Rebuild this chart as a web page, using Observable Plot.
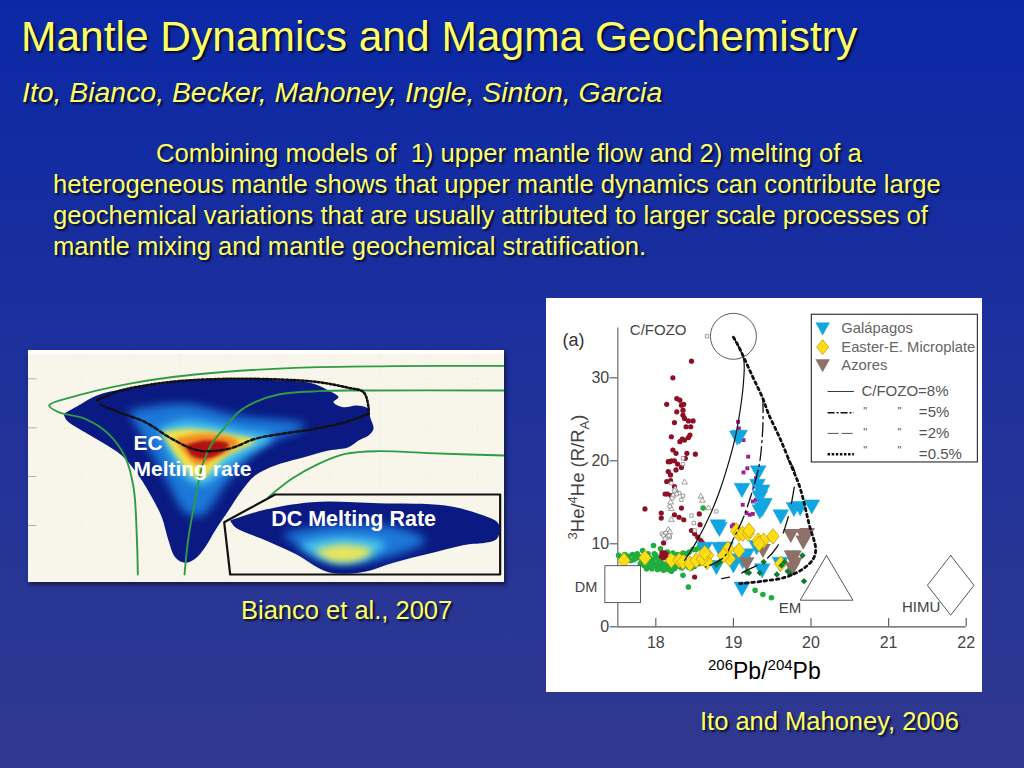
<!DOCTYPE html>
<html><head><meta charset="utf-8">
<script src="https://cdn.jsdelivr.net/npm/d3@7"></script>
<script src="https://cdn.jsdelivr.net/npm/@observablehq/plot@0.6"></script>
<style>
html,body{margin:0;padding:0;width:1024px;height:768px;overflow:hidden;background:linear-gradient(#0b28a6 0%,#1d309c 45%,#30398f 100%);font-family:"Liberation Sans",Arial,sans-serif}
.t{position:absolute;white-space:nowrap;color:#ffff66;text-shadow:2px 2px 2px #000b}
#title{left:21px;top:14px;font-size:42.5px;line-height:46px}
#sub{left:22px;top:76px;font-size:28.4px;line-height:32px;font-style:italic}
.p{font-size:25.6px;line-height:31px}
.cap{font-size:25.5px;line-height:28px}
#ec,#ito{position:absolute}
#ec{left:28px;top:350px;width:476px;height:232px;box-shadow:2px 3px 4px #0008}
#ito{left:546px;top:298px;width:436px;height:394px;background:#fff}
#ec svg,#ito svg{display:block;background:transparent}
#xl{position:absolute;left:162px;top:360px;font-size:23px;line-height:26px;color:#000;white-space:nowrap}
#xl sup{font-size:15px;line-height:0}
#yl{position:absolute;left:32px;top:179px;transform:translate(-50%,-50%) rotate(-90deg);font-size:18.5px;line-height:22px;color:#444;white-space:nowrap}
#yl sup,#yl sub{font-size:13px;line-height:0}
</style></head>
<body>
<div class="t" id="title">Mantle Dynamics and Magma Geochemistry</div>
<div class="t" id="sub">Ito, Bianco, Becker, Mahoney, Ingle, Sinton, Garcia</div>
<div class="t p" style="left:156px;top:138px">Combining models of&nbsp; 1) upper mantle flow and 2) melting of a</div>
<div class="t p" style="left:53px;top:169px">heterogeneous mantle shows that upper mantle dynamics can contribute large</div>
<div class="t p" style="left:53px;top:200px">geochemical variations that are usually attributed to larger scale processes of</div>
<div class="t p" style="left:53px;top:231px">mantle mixing and mantle geochemical stratification.</div>
<div id="ec"></div>
<div class="t cap" style="left:241px;top:596px">Bianco et al., 2007</div>
<div id="ito"><div id="yl"><sup>3</sup>He/<sup>4</sup>He (R/R<sub>A</sub>)</div><div id="xl"><sup>206</sup>Pb/<sup>204</sup>Pb</div></div>
<div class="t cap" style="left:700px;top:707px">Ito and Mahoney, 2006</div>
<script>
// ---------- Right panel: He / Pb values ----------
const darkRed=[[18.46,32],[18.22,30],[18.14,26.8],[18.27,27.5],[18.31,27.3],[18.33,26.7],[18.36,26.8],[18.27,25.9],[18.35,26.1],[18.35,25.5],[18.24,24.6],[18.37,25.1],[18.42,24.8],[18.48,24.8],[18.39,24.1],[18.45,24.1],[18.2,22.9],[18.44,23.1],[18.42,22.8],[18.37,22.5],[18.31,22.3],[18.34,22.6],[18.22,21.3],[18.26,20.9],[18.4,20.9],[18.51,20.8],[18.38,20.3],[18.16,19.9],[18.2,20],[18.24,20],[18.18,19.9],[18.28,19.6],[18.33,19.2],[18.16,18.7],[18.19,18.3],[18.26,18.9],[18.14,17.5],[18.19,17.6],[18.24,16.9],[18.15,16],[18.12,16],[18.2,15.8],[18.33,14.3],[17.86,14.2],[18.07,13.7],[18.07,13.1],[18.24,13.5],[18.3,13.2],[18.36,12.9],[18.56,13.6],[18.57,12.3],[18.46,11.6],[18.5,11.2],[18.54,10.8],[18.58,10.4],[18.6,10.1],[18.1,10.1],[18.5,6],[18.08,8.9],[18.1,8.7],[18.12,8.5],[18.07,8.5],[18.11,8.9],[18.13,8.8],[18.09,8.3],[18.14,8.3]];
const brightGreen=[[17.52,8.6],[17.56,8.4],[17.6,8.7],[17.65,8.5],[17.7,8.7],[17.72,8.1],[17.76,8.8],[17.8,8.4],[17.83,9.2],[17.88,8.1],[17.9,8.8],[17.93,7.5],[17.97,9.8],[17.98,8.8],[18.02,8.2],[18.04,7.2],[17.8,7.6],[17.85,7.4],[17.9,7.2],[17.95,7],[17.98,7.6],[18.02,6.9],[18.05,7.8],[18.08,7.2],[18.1,6.8],[18.13,7.1],[18.15,7.6],[18.18,7.1],[18.2,6.7],[18.22,7.4],[18.06,9.4],[18.15,9],[18.22,8.9],[18.28,8.7],[18.32,7.2],[18.35,8.9],[18.38,7.4],[18.4,8.8],[18.43,9],[18.46,7.1],[18.48,9.3],[18.52,9.3],[18.56,9.6],[18.6,9.2],[18.62,8],[18.35,6.2],[18.42,4.8],[19.28,4.4],[19.38,3.9],[19.49,3.5],[18.61,14.3],[17.6,8.2],[17.68,8],[17.75,8.3],[17.82,8],[17.87,7.8],[17.92,8.3],[17.96,8.1],[18,7.4],[18.03,7.6],[18.06,7],[18.09,7.6],[18.12,7.4],[18.16,6.9],[18.19,7.5],[18.24,7],[18.27,7.3],[18.3,8.6],[18.34,7.1],[18.42,7.2],[18.5,7.3],[18.55,7.6],[17.88,7],[17.94,7.8],[18,8.6]];
const darkGreen=[[19.17,6.6],[19.2,6.5],[19.39,7.8],[19.34,6.5],[19.56,6.3],[19.62,7.4],[19.66,7.8],[19.73,6.4],[19.7,6.7],[19.89,8.6],[19.91,5.5],[18.82,7.8],[18.78,7.5]];
const magenta=[[19.06,24.7],[19.07,23.9],[19.13,22.5],[19.19,20.5],[19.18,19.1],[19.13,18.6],[19.29,17.9],[19.27,17],[19.25,15.1],[19.29,15.3],[19.12,14.7],[19.17,13.7],[19.21,13.5],[19.25,13.6],[19,12.3],[18.98,12.1]];
const graySquares=[[18.66,35],[18.35,20.3],[18.35,19.6],[18.35,15.8],[18.33,15.3],[18.3,16.1],[18.2,17.3],[18.46,13.4],[18.78,13.9],[18.49,12.5],[18.5,11.6],[18.12,11.2],[18.16,11.3],[18.18,10.8]];
const grayTriangles=[[18.37,17.4],[18.58,15.7],[18.6,15.2],[18.68,14.3],[18.25,16.6],[18.22,15.8],[18.19,15],[18.2,14.2],[18.2,12.9],[18.16,11.7],[18.18,11.4]];
const grayCircles=[[18.08,11.2],[18.1,11],[18.13,11.3],[18.15,10.8],[18.12,10.6],[18.17,11],[18.24,16.4],[18.27,16],[18.21,15.5],[18.18,14.5]];
const galapagos=[[19.05,22.8],[19.08,22.9],[19.32,18.6],[19.11,16.5],[19.31,17],[19.37,16.3],[19.34,15.6],[19.4,14.7],[19.37,14.2],[19.34,13.9],[19.61,13.3],[19.78,14.2],[19.86,14.3],[20.01,14.5],[18.8,12.1],[18.82,11.8],[18.82,9.4],[18.63,9.4],[18.9,9.4],[18.78,7.2],[19,7.4],[18.98,8],[19.17,8.6],[19.12,7.9],[19.11,4.6],[19.37,6.8],[19.6,7.6],[19.3,9.6]];
const easter=[[17.59,8],[17.86,8.3],[18.2,8],[18.3,8],[18.35,7.8],[18.44,7.6],[18.52,8],[18.67,8.6],[18.66,7.8],[18.6,8.2],[18.63,8.9],[19.04,11.6],[19.07,11.2],[19.12,11.2],[19.19,11.2],[19.2,11.6],[19.32,10.4],[19.39,10.4],[19.33,10],[19.51,10.9],[19.07,9.2],[18.93,9.4],[18.95,8.2],[18.87,8.6],[19.61,7.6]];
const azores=[[19.17,7.6],[19.38,9.2],[19.74,11],[19.9,11],[19.95,11.1],[19.9,10.2],[19.75,8.4],[19.79,7.6],[19.76,7],[19.78,8.4]];
const curve8=[[19,34.9],[19.13,32.3],[19.13,29.5],[19.09,26.3],[19.03,23.1],[18.93,19.5],[18.82,16.3],[18.7,13.5],[18.52,10.2],[18.37,8]];
const curve5=[[19.38,27.5],[19.38,24.3],[19.34,19.9],[19.28,17.5],[19.13,13.2],[19,10.6],[18.88,8.4],[18.64,7.2]];
const curve2=[[19.7,20.2],[19.79,18.7],[19.76,15.5],[19.66,11.8],[19.56,9.6],[19.38,7.8],[19.17,6.8],[19.04,6.2],[18.85,5.8]];
const curve05=[[19,34.9],[19.06,33.9],[19.25,30.1],[19.38,27.5],[19.45,25.7],[19.6,22.7],[19.75,19.3],[19.86,16.7],[19.98,12.2],[20.06,9.4],[20.03,8.2],[19.9,7],[19.68,6],[19.38,5.5],[19.08,5.2]];
const emTriangle=[[20.2,8.6],[20.54,3.2],[19.86,3.2],[20.2,8.6]];
const himuDiamond=[[21.8,8.6],[22.1,5],[21.8,1.4],[21.5,5],[21.8,8.6]];
const xTicks=[18,19,20,21,22], yTicks=[0,10,20,30];
const legendSeries=["Galápagos","Easter-E. Microplate","Azores"];
const legendCurves=["C/FOZO=8%","=5%","=2%","=0.5%"];

const down={draw(c,s){const a=Math.sqrt(s);c.moveTo(-a*.6,-a*.5);c.lineTo(a*.6,-a*.5);c.lineTo(0,a*.58);c.closePath();}};
const dia={draw(c,s){const a=Math.sqrt(s);c.moveTo(0,-a*.62);c.lineTo(a*.5,0);c.lineTo(0,a*.62);c.lineTo(-a*.5,0);c.closePath();}};
const X=d=>d[0],Y=d=>d[1];
const dk="#444";
const curveOpts={x:X,y:Y,curve:"catmull-rom",stroke:"#111"};
const right=Plot.plot({
  width:436,height:394,marginLeft:71.3,marginRight:16.3,marginTop:29.5,marginBottom:65.7,
  style:{background:"transparent",fontFamily:"Liberation Sans, Arial, sans-serif",overflow:"visible"},
  x:{domain:[17.51,22],axis:null},y:{domain:[0,36],axis:null},
  marks:[
    Plot.ruleX([17.51],{y1:0,y2:36,stroke:"#777",strokeWidth:1.3}),
    Plot.ruleY([0],{x1:17.51,x2:22,stroke:"#555",strokeWidth:1.3}),
    Plot.ruleX(xTicks,{y1:0,y2:1,stroke:"#555",strokeWidth:1.1}),
    Plot.ruleY(yTicks,{x1:17.41,x2:17.51,stroke:"#555",strokeWidth:1.1}),
    Plot.text(xTicks,{x:d=>d,y:0,dy:16,text:d=>String(d),fontSize:16,fill:dk}),
    Plot.text(yTicks,{x:17.4,y:d=>d,text:d=>String(d),fontSize:16,textAnchor:"end",fill:dk}),
    Plot.dot(brightGreen,{x:X,y:Y,r:2.8,fill:"#1fae3e"}),
    Plot.dot(darkRed,{x:X,y:Y,r:2.6,fill:"#8c1026"}),
    Plot.dot(magenta,{x:X,y:Y,symbol:"square",r:2.2,fill:"#a01f8f"}),
    Plot.dot(galapagos,{x:X,y:Y,symbol:down,r:7.4,fill:"#12a6e0",stroke:"#12a6e0",strokeWidth:.5}),
    Plot.dot(azores,{x:X,y:Y,symbol:down,r:7.4,fill:"#8d7068"}),
    Plot.dot(easter,{x:X,y:Y,symbol:dia,r:7,fill:"#ffdc14",stroke:"#b09a10",strokeWidth:.7}),
    Plot.dot(darkGreen,{x:X,y:Y,symbol:"diamond2",r:2.9,fill:"#0d7a30"}),
    Plot.dot(graySquares,{x:X,y:Y,symbol:"square",r:1.9,fill:"#fff",stroke:"#777",strokeWidth:.7}),
    Plot.dot(grayTriangles,{x:X,y:Y,symbol:"triangle",r:2.1,fill:"#fff",stroke:"#777",strokeWidth:.7}),
    Plot.dot(grayCircles,{x:X,y:Y,r:2.1,fill:"#eee",stroke:"#777",strokeWidth:.7}),
    Plot.line(curve8,{...curveOpts,strokeWidth:1.2}),
    Plot.line(curve5,{...curveOpts,strokeWidth:1.3,strokeDasharray:"14 4 2 4"}),
    Plot.line(curve2,{...curveOpts,strokeWidth:1.3,strokeDasharray:"17 13"}),
    Plot.line(curve05,{...curveOpts,strokeWidth:2.8,strokeDasharray:"2.6 3.6"}),
    Plot.dot([[19,35]],{x:X,y:Y,r:23,fill:"none",stroke:"#333",strokeWidth:.8}),
    Plot.rect([[17.35,17.81,2.85,7.3]],{x1:d=>d[0],x2:d=>d[1],y1:d=>d[2],y2:d=>d[3],fill:"#fff",stroke:"#333",strokeWidth:.8}),
    Plot.line(emTriangle,{x:X,y:Y,stroke:"#444",strokeWidth:.9}),
    Plot.line(himuDiamond,{x:X,y:Y,stroke:"#444",strokeWidth:.9}),
    Plot.text(["C/FOZO"],{x:18.03,y:35.75,fontSize:15,fill:dk}),
    Plot.text(["(a)"],{x:16.94,y:34.5,fontSize:18,fill:"#333"}),
    Plot.text(["DM"],{x:17.1,y:4.8,fontSize:14.5,fill:dk}),
    Plot.text(["EM"],{x:19.73,y:2.2,fontSize:15,fill:dk}),
    Plot.text(["HIMU"],{x:21.42,y:2.4,fontSize:15,fill:dk}),
    Plot.rect([[20.01,22.15,19.8,37.6]],{x1:d=>d[0],x2:d=>d[1],y1:d=>d[2],y2:d=>d[3],fill:"#fff",stroke:"#111",strokeWidth:1}),
    Plot.dot(["a"],{x:20.15,y:35.95,symbol:down,r:6.8,fill:"#12a6e0"}),
    Plot.dot(["b"],{x:20.15,y:33.7,symbol:dia,r:6.8,fill:"#ffdc14",stroke:"#b09a10",strokeWidth:.7}),
    Plot.dot(["c"],{x:20.15,y:31.5,symbol:down,r:6.8,fill:"#8d7068"}),
    Plot.text(legendSeries,{x:20.39,y:(d,i)=>[35.95,33.7,31.5][i],text:d=>d,textAnchor:"start",fontSize:14.8,fill:"#666"}),
    Plot.ruleY([28.35],{x1:20.22,x2:20.56,stroke:"#222",strokeWidth:.9}),
    Plot.ruleY([25.8],{x1:20.22,x2:20.56,stroke:"#111",strokeWidth:1.5,strokeDasharray:"7 2 2 2"}),
    Plot.ruleY([23.3],{x1:20.22,x2:20.56,stroke:"#555",strokeWidth:1,strokeDasharray:"11 3"}),
    Plot.ruleY([20.8],{x1:20.22,x2:20.56,stroke:"#111",strokeWidth:2.5,strokeDasharray:"2.5 1.6"}),
    Plot.text(legendCurves,{x:d=>d==="C/FOZO=8%"?20.65:21.39,y:(d,i)=>[28.4,25.8,23.3,20.8][i],text:d=>d,textAnchor:"start",fontSize:15,fill:"#555"}),
    Plot.text(['"','"','"','"','"','"'],{x:(d,i)=>i%2?21.14:20.7,y:(d,i)=>[25.9,25.9,23.4,23.4,21.2,21.2][i],text:d=>d,fontSize:11,fill:"#555"})
  ]
});
document.getElementById("ito").prepend(right);

// ---------- Left panel: melting-rate regions, in reference-crop units ----------
const ecOutline=[[105,190],[150,165],[205,135],[290,115],[400,100],[480,88],[620,85],[760,90],[850,98],[900,120],[930,140],[915,155],[945,170],[985,165],[1020,175],[1025,200],[1035,235],[1020,255],[990,270],[960,290],[900,300],[810,325],[740,345],[680,375],[640,420],[600,480],[560,540],[530,590],[500,625],[470,637],[440,620],[420,570],[400,500],[370,440],[330,375],[280,315],[220,275],[160,240],[115,210]];
const ecBlue=[[300,180],[470,160],[620,195],[830,225],[700,290],[600,390],[520,495],[470,485],[420,400],[370,310]];
const ecCyan=[[390,235],[470,210],[640,240],[730,260],[620,330],[530,400],[480,390],[430,320]];
const ecYellow=[[400,245],[480,235],[620,255],[680,270],[590,320],[510,385],[440,310]];
const ecOrange=[[440,265],[520,250],[620,265],[630,280],[560,325],[510,345],[470,310]];
const ecRed=[[470,285],[530,270],[600,280],[590,300],[530,325],[490,315]];
const dcBox=[[740,432],[1415,432],[1415,672],[605,672],[587,515],[740,432]];
const dcOutline=[[605,510],[700,480],[850,455],[1050,458],[1250,465],[1350,490],[1410,520],[1405,565],[1300,585],[1200,610],[1100,635],[1000,665],[900,665],[800,610],[700,565],[620,530]];
const dcBlue=[[760,550],[900,525],[1100,530],[1190,570],[1060,625],[950,640],[860,620]];
const dcCyan=[[810,580],[930,560],[1070,580],[1020,620],[940,635],[870,620]];
const dcYellow=[[860,600],[940,583],[1030,600],[1000,625],[930,635],[885,620]];
const green1=[[1428,46],[1100,47],[800,52],[500,72],[300,100],[130,140],[62,165],[90,185],[170,205],[240,250],[290,320],[315,410],[325,560],[328,672]];
const green2=[[1428,120],[1000,120],[870,122],[750,132],[680,155],[630,185],[590,230],[550,280],[520,350],[500,450],[480,560],[468,672]];
const green3=[[1428,315],[1200,308],[1050,302],[950,310],[870,340],[790,385],[720,440]];
const dottedTop=[[205,150],[270,122],[350,105],[450,92],[600,85],[750,87],[870,95],[960,112],[1005,125],[1020,170],[1020,190]];
const dashedLow=[[1020,190],[950,215],[860,235],[760,250],[680,265],[600,295],[510,300],[430,265],[350,215],[270,185],[210,160]];
const gridX=[155,305,455,605,755,905,1055,1205,1345], gridY=[85,232,378,525];
const poly=(d,fill,blur)=>Plot.line([...d,d[0]],{x:X,y:Y,fill,stroke:"none",curve:"catmull-rom",imageFilter:blur?`blur(${blur}px)`:undefined});
const left=Plot.plot({
  width:476,height:232,margin:0,
  style:{background:"#f8f6ea",overflow:"hidden"},
  x:{domain:[0,1428],axis:null},y:{domain:[696,0],axis:null},
  marks:[
    Plot.rect([0],{x1:0,x2:1428,y1:0,y2:12,fill:"#fff"}),
    Plot.ruleX(gridX,{stroke:"#ddd",strokeWidth:.5,strokeDasharray:"1 3"}),
    Plot.ruleY(gridY,{stroke:"#ddd",strokeWidth:.5,strokeDasharray:"1 3"}),
    Plot.ruleY(gridY,{x1:0,x2:25,stroke:"#999",strokeWidth:.7}),
    poly(ecOutline,"#0a1a82",0.4),
    poly(ecBlue,"#1c78d8",5),
    poly(ecCyan,"#48c6ee",4),
    poly(ecYellow,"#f2e048",2.5),
    poly(ecOrange,"#f08a24",2),
    poly(ecRed,"#b01212",1.5),
    Plot.line(green1,{x:X,y:Y,curve:"catmull-rom",stroke:"#2f9b45",strokeWidth:1.9}),
    Plot.line(green2,{x:X,y:Y,curve:"catmull-rom",stroke:"#2f9b45",strokeWidth:1.9}),
    Plot.line(green3,{x:X,y:Y,curve:"catmull-rom",stroke:"#2f9b45",strokeWidth:1.9}),
    Plot.line(dottedTop,{x:X,y:Y,curve:"catmull-rom",stroke:"#111",strokeWidth:2.6,strokeDasharray:"1.8 2.2"}),
    Plot.line(dashedLow,{x:X,y:Y,curve:"catmull-rom",stroke:"#111",strokeWidth:2.4,strokeDasharray:"4 2.5"}),
    Plot.line(dcBox,{x:X,y:Y,fill:"#f8f6ea",stroke:"#111",strokeWidth:2.2}),
    poly(dcOutline,"#0a1a82",0.4),
    poly(dcBlue,"#1c78d8",5),
    poly(dcCyan,"#48c6ee",4),
    poly(dcYellow,"#e8e45a",3.5),
    Plot.text(["EC"],{x:315,y:277,textAnchor:"start",fontSize:21,fontWeight:"bold",fill:"#fff",fontFamily:"Liberation Sans"}),
    Plot.text(["Melting rate"],{x:315,y:355,textAnchor:"start",fontSize:21,fontWeight:"bold",fill:"#fff",fontFamily:"Liberation Sans"}),
    Plot.text(["DC Melting Rate"],{x:728,y:506,textAnchor:"start",fontSize:21.5,fontWeight:"bold",fill:"#fff",fontFamily:"Liberation Sans"})
  ]
});
document.getElementById("ec").appendChild(left);
</script>
</body></html>
